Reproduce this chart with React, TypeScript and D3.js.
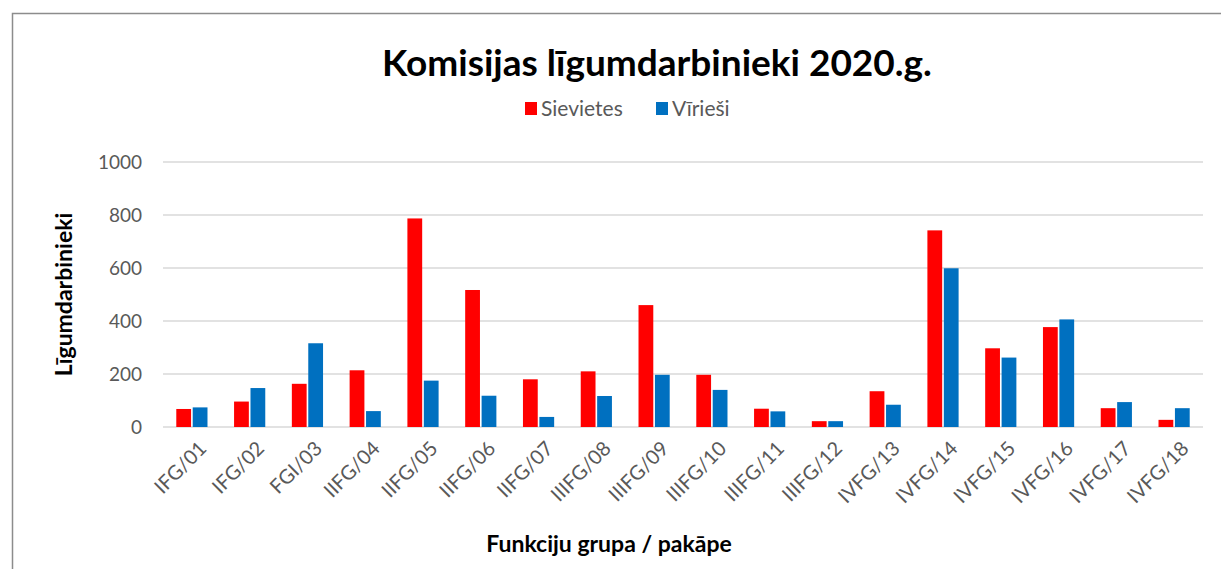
import * as d3 from "d3";

const categories = [
  "IFG/01", "IFG/02", "FGI/03", "IIFG/04", "IIFG/05", "IIFG/06", "IIFG/07", "IIIFG/08", "IIIFG/09",
  "IIIFG/10", "IIIFG/11", "IIIFG/12", "IVFG/13", "IVFG/14", "IVFG/15", "IVFG/16", "IVFG/17", "IVFG/18",
];
const sievietes = [68, 96, 163, 214, 787, 517, 180, 210, 460, 197, 69, 22, 135, 742, 297, 377, 71, 27];
const viriesi = [74, 147, 316, 60, 175, 118, 38, 117, 197, 140, 59, 22, 84, 599, 262, 406, 94, 71];
const seriesNames = ["Sievietes", "Vīrieši"];
const yTicks = [0, 200, 400, 600, 800, 1000];

const W = 1221;
const H = 569;
const M = { top: 162, right: 18, bottom: 142, left: 163 };
const FONT = "Lato, 'Open Sans', sans-serif";
const colors = ["#ff0000", "#0070c0"];

export default function App() {
  const innerW = W - M.left - M.right;
  const innerH = H - M.top - M.bottom;

  const x = d3.scaleBand<string>().domain(categories).range([0, innerW]).paddingInner(0.46).paddingOuter(0.23);
  const x1 = d3.scaleBand<string>().domain(seriesNames).range([0, x.bandwidth()]).paddingInner(0.1);
  const y = d3.scaleLinear().domain([0, 1000]).range([innerH, 0]);

  const rows = categories.map((c, i) => ({ c, vals: [sievietes[i], viriesi[i]] }));

  return (
    <svg width={W} height={H} style={{ position: "absolute", left: 0, top: 0, background: "#fff" }}>
      <rect x={12.5} y={13.5} width={W + 20} height={H + 20} fill="#fff" stroke="#8c8c8c" strokeWidth={1.5} />
      <text x={657} y={76} textAnchor="middle" fontFamily={FONT} fontWeight="bold" fontSize={37} fill="#000">
        Komisijas līgumdarbinieki 2020.g.
      </text>
      <g fontFamily={FONT} fontSize={21} fill="#595959">
        <rect x={525} y={102} width={12} height={13} fill={colors[0]} />
        <text x={541} y={116}>{seriesNames[0]}</text>
        <rect x={656} y={102} width={12} height={13} fill={colors[1]} />
        <text x={672} y={116}>{seriesNames[1]}</text>
      </g>
      <g transform={`translate(${M.left},${M.top})`}>
        {yTicks.map((t) => (
          <g key={t}>
            <line x1={0} x2={innerW} y1={y(t)} y2={y(t)} stroke="#d9d9d9" strokeWidth={1.5} />
            <text x={-21} y={y(t)} dy="0.35em" textAnchor="end" fontFamily={FONT} fontSize={19} fill="#595959">
              {t}
            </text>
          </g>
        ))}
        {rows.map((r) => (
          <g key={r.c} transform={`translate(${x(r.c)},0)`}>
            {r.vals.map((v, j) => (
              <rect
                key={j}
                x={x1(seriesNames[j])}
                y={y(v)}
                width={x1.bandwidth()}
                height={innerH - y(v)}
                fill={colors[j]}
              />
            ))}
          </g>
        ))}
        {categories.map((c) => {
          const cx = (x(c) ?? 0) + x.bandwidth() / 2;
          return (
            <text
              key={c}
              transform={`translate(${cx + 6},${innerH + 13}) rotate(-45)`}
              textAnchor="end"
              dy="0.7em"
              fontFamily={FONT}
              fontSize={20}
              fill="#595959"
            >
              {c}
            </text>
          );
        })}
        <text
          transform={`translate(-91,${innerH / 2}) rotate(-90)`}
          textAnchor="middle"
          fontFamily={FONT}
          fontWeight="bold"
          fontSize={23}
          fill="#000"
        >
          Līgumdarbinieki
        </text>
      </g>
      <text x={609} y={552} textAnchor="middle" fontFamily={FONT} fontWeight="bold" fontSize={23} fill="#000">
        Funkciju grupa / pakāpe
      </text>
    </svg>
  );
}
